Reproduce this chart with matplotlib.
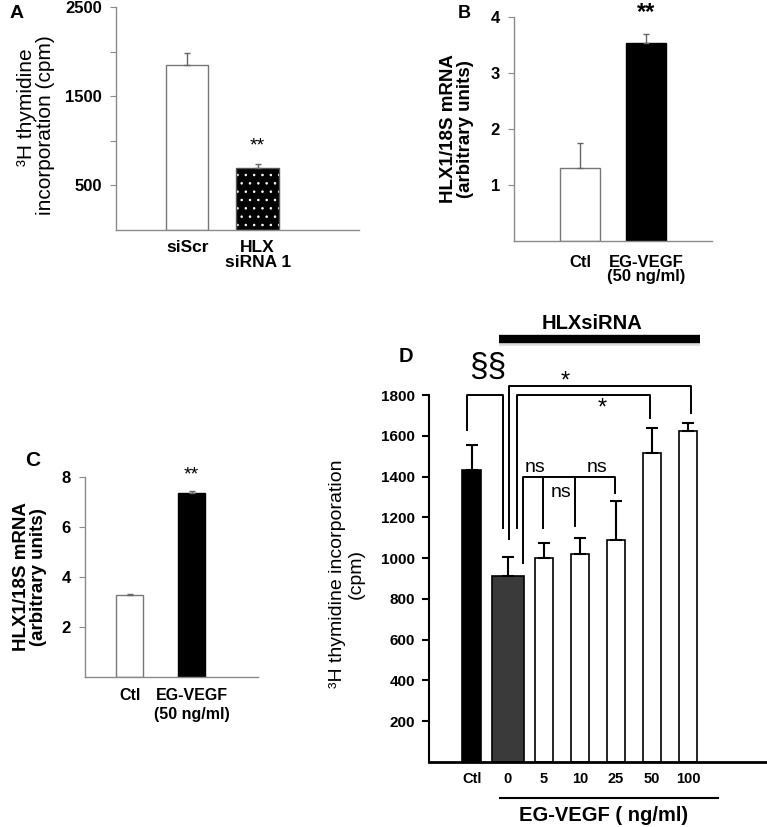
import matplotlib
matplotlib.use('Agg')
import matplotlib.pyplot as plt

plt.rcParams['font.family'] = ['Liberation Sans', 'DejaVu Sans']

# panel A - 3H thymidine incorporation, siRNA
a_labels = ['siScr', 'HLX\nsiRNA 1']
a_vals = [1850, 700]
a_err = [130, 45]

# panel B - HLX1 mRNA (arbitrary units)
b_labels = ['Ctl', 'EG-VEGF\n(50 ng/ml)']
b_vals = [1.30, 3.53]
b_err = [0.45, 0.17]

# panel C - HLX1 mRNA (arbitrary units)
c_labels = ['Ctl', 'EG-VEGF\n(50 ng/ml)']
c_vals = [3.28, 7.36]
c_err = [0.04, 0.08]

# panel D - thymidine incorporation vs EG-VEGF dose
d_labels = ['Ctl', '0', '5', '10', '25', '50', '100']
d_vals = [1430, 910, 1000, 1020, 1090, 1515, 1625]
d_err = [125, 95, 75, 80, 190, 125, 40]
d_colors = ['black', '#3a3a3a', 'white', 'white', 'white', 'white', 'white']

GRAY = '#8a8a8a'

fig = plt.figure(figsize=(7.67, 8.27), dpi=100)


def style_gray(ax, ticksize=12):
    for s in ['top', 'right']:
        ax.spines[s].set_visible(False)
    for s in ['left', 'bottom']:
        ax.spines[s].set_color(GRAY)
        ax.spines[s].set_linewidth(1.0)
    ax.tick_params(axis='y', direction='out', length=4, color=GRAY, labelsize=ticksize, pad=6)
    ax.tick_params(axis='x', length=0)
    for t in ax.get_yticklabels():
        t.set_fontweight('bold')


# ---- A ----
axA = fig.add_axes([116/767, 1-230/827, 243/767, 223/827])
axA.bar([0], a_vals[:1], width=0.6, color='white', edgecolor='#777777', linewidth=1.0)
plt.rcParams['hatch.linewidth'] = 0.6
axA.bar([1], a_vals[1:], width=0.6, color='black', edgecolor='white', hatch='..', linewidth=0)
axA.bar([1], a_vals[1:], width=0.6, fill=False, edgecolor='#555555', linewidth=1.0)
axA.errorbar([0, 1], a_vals, yerr=[[0, 0], a_err], fmt='none', ecolor='#666666',
             elinewidth=1.0, capsize=2.5, capthick=1.0)
axA.set_xlim(-1.01, 2.44)
axA.set_ylim(0, 2500)
axA.set_yticks([500, 1000, 1500, 2000, 2500])
axA.set_yticklabels(['500', '', '1500', '', '2500'])
axA.set_xticks([0, 1])
axA.set_xticklabels(a_labels, fontsize=12.5, fontweight='bold', linespacing=1.0)
style_gray(axA)
axA.tick_params(axis='x', pad=7)
axA.text(1, 944, '**', ha='center', va='center', fontsize=14)
fig.text(27/767, 1-107/827, '³H thymidine', rotation=90,
         ha='center', va='center', fontsize=15)
fig.text(46/767, 1-125/827, 'incorporation (cpm)', rotation=90,
         ha='center', va='center', fontsize=15)
fig.text(17/767, 1-14/827, 'A', fontsize=14, fontweight='bold', ha='center', va='center')

# ---- B ----
axB = fig.add_axes([514/767, 1-241/827, 198/767, 224/827])
axB.bar([0, 1], b_vals, width=0.6, color=['white', 'black'],
        edgecolor=['#777777', 'black'], linewidth=1.0)
axB.errorbar([0, 1], b_vals, yerr=[[0, 0], b_err], fmt='none', ecolor='#666666',
             elinewidth=1.0, capsize=2.5, capthick=1.0)
axB.set_xlim(-1.0, 2.0)
axB.set_ylim(0, 4)
axB.set_yticks([1, 2, 3, 4])
axB.set_xticks([0, 1])
axB.set_xticklabels(b_labels, fontsize=12, fontweight='bold', linespacing=0.95)
style_gray(axB)
axB.tick_params(axis='x', pad=10)
axB.text(1, 4.28, '**', ha='center', va='top', fontsize=17, fontweight='bold', clip_on=False)
fig.text(457/767, 1-129/827, 'HLX1/18S mRNA\n(arbitrary units)', rotation=90,
         ha='center', va='center', fontsize=13.5, fontweight='bold', linespacing=1.0)
fig.text(464/767, 1-14/827, 'B', fontsize=13, fontweight='bold', ha='center', va='center')

# ---- C ----
axC = fig.add_axes([85/767, 1-677/827, 173/767, 200/827])
axC.bar([0, 1], c_vals, width=0.44, color=['white', 'black'],
        edgecolor=['#777777', 'black'], linewidth=1.0)
axC.errorbar([0, 1], c_vals, yerr=[[0, 0], c_err], fmt='none', ecolor='#666666',
             elinewidth=1.0, capsize=2, capthick=1.0)
axC.set_xlim(-0.72, 2.07)
axC.set_ylim(0, 8)
axC.set_yticks([2, 4, 6, 8])
axC.set_xticks([0, 1])
axC.set_xticklabels(c_labels, fontsize=11.5, fontweight='bold', linespacing=1.3)
style_gray(axC, ticksize=12)
axC.tick_params(axis='x', pad=8)
axC.get_xticklabels()[1].set_x(1.12)
axC.text(1, 8.1, '**', ha='center', va='center', fontsize=14, clip_on=False)
fig.text(30/767, 1-577/827, 'HLX1/18S mRNA\n(arbitrary units)', rotation=90,
         ha='center', va='center', fontsize=13.5, fontweight='bold', linespacing=1.0)
fig.text(33/767, 1-461/827, 'C', fontsize=15, fontweight='bold', ha='center', va='center')

# ---- D ----
axD = fig.add_axes([429/767, 1-762/827, 338/767, 367/827])
xs = list(range(len(d_vals)))
widths = [0.53, 0.9, 0.5, 0.5, 0.5, 0.5, 0.5]
axD.bar(xs, d_vals, width=widths, color=d_colors, edgecolor='black', linewidth=1.2)
axD.errorbar(xs, d_vals, yerr=[[0]*len(d_err), d_err], fmt='none', ecolor='black',
             elinewidth=1.5, capsize=4, capthick=1.5)
axD.set_xlim(-1.19, 8.19)
axD.set_ylim(0, 1800)
axD.set_yticks(range(200, 1801, 200))
axD.set_xticks(xs)
axD.set_xticklabels(d_labels, fontsize=10.5, fontweight='bold')
for s in ['top', 'right']:
    axD.spines[s].set_visible(False)
axD.spines['left'].set_linewidth(1.5)
axD.spines['bottom'].set_linewidth(2.0)
axD.tick_params(axis='y', direction='out', length=5, width=1.5, labelsize=11, pad=5)
axD.tick_params(axis='x', length=0, pad=7)
for t in axD.get_yticklabels():
    t.set_fontweight('bold')

# significance brackets
lw = 1.4
axD.plot([-0.14, -0.14, 0.86, 0.86], [1628, 1800, 1800, 1148], color='black', lw=lw, clip_on=False)
axD.plot([1.03, 1.03, 6.08, 6.08], [1094, 1844, 1844, 1712], color='black', lw=lw, clip_on=False)
axD.plot([1.25, 1.25, 4.94, 4.94], [1148, 1800, 1800, 1687], color='black', lw=lw, clip_on=False)
axD.plot([1.42, 1.42, 3.97, 3.97], [976, 1398, 1398, 1319], color='black', lw=lw, clip_on=False)
axD.plot([1.97, 1.97], [1398, 1148], color='black', lw=lw, clip_on=False)
axD.plot([2.86, 2.86], [1398, 1157], color='black', lw=lw, clip_on=False)

axD.text(0.44, 1937, '§§', ha='center', va='center', fontsize=24)
axD.text(2.58, 1865, '*', ha='center', va='center', fontsize=17)
axD.text(3.61, 1733, '*', ha='center', va='center', fontsize=17)
axD.text(1.75, 1442, 'ns', ha='center', va='center', fontsize=14)
axD.text(3.47, 1442, 'ns', ha='center', va='center', fontsize=14)
axD.text(2.47, 1324, 'ns', ha='center', va='center', fontsize=14)

# HLXsiRNA bar and EG-VEGF dose line
axD.plot([0.75, 6.33], [2065, 2065], color='#bbbbbb', lw=7, clip_on=False, solid_capstyle='butt', alpha=0.5)
axD.plot([0.75, 6.33], [2075, 2075], color='black', lw=6, clip_on=False, solid_capstyle='butt')
axD.text(3.33, 2153, 'HLXsiRNA', ha='center', va='center', fontsize=14.5, fontweight='bold')
axD.plot([0.78, 6.83], [-177, -177], color='black', lw=1.5, clip_on=False)
axD.text(3.65, -262, 'EG-VEGF ( ng/ml)', ha='center', va='center', fontsize=14.5, fontweight='bold')
axD.text(-1.83, 1991, 'D', ha='center', va='center', fontsize=14.5, fontweight='bold')

fig.text(347/767, 1-574/827, '³H thymidine incorporation\n(cpm)', rotation=90,
         ha='center', va='center', fontsize=14, linespacing=1.1)

fig.savefig('out.png', dpi=100)
